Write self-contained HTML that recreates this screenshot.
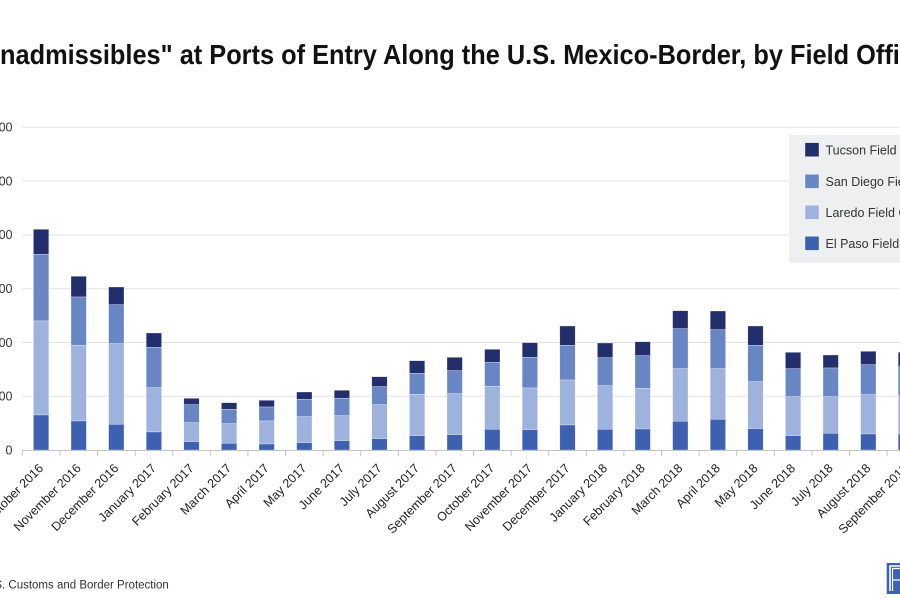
<!DOCTYPE html>
<html>
<head>
<meta charset="utf-8">
<style>
  html,body{margin:0;padding:0;background:#fff;}
  body{width:900px;height:600px;overflow:hidden;}
  svg{display:block;font-family:"Liberation Sans",sans-serif;}
</style>
</head>
<body>
<svg width="900" height="600" viewBox="0 0 900 600" xmlns="http://www.w3.org/2000/svg">
  <rect x="0" y="0" width="900" height="600" fill="#ffffff"/>

  <!-- Title -->
  <text x="-19" y="64" font-size="28" font-weight="bold" fill="#111" textLength="947" lengthAdjust="spacingAndGlyphs">"Inadmissibles" at Ports of Entry Along the U.S. Mexico-Border, by Field Office</text>

  <!-- Gridlines -->
  <g stroke="#e3e3e3" stroke-width="1">
    <line x1="22" y1="127.3" x2="900" y2="127.3"/>
    <line x1="22" y1="181.1" x2="900" y2="181.1"/>
    <line x1="22" y1="234.9" x2="900" y2="234.9"/>
    <line x1="22" y1="288.7" x2="900" y2="288.7"/>
    <line x1="22" y1="342.5" x2="900" y2="342.5"/>
    <line x1="22" y1="396.3" x2="900" y2="396.3"/>
  </g>

  <!-- Y labels -->
  <g font-size="12.5" fill="#333" text-anchor="end">
    <text x="12.5" y="131.6">30,000</text>
    <text x="12.5" y="185.4">25,000</text>
    <text x="12.5" y="239.2">20,000</text>
    <text x="12.5" y="293">15,000</text>
    <text x="12.5" y="346.8">10,000</text>
    <text x="12.5" y="400.6">5,000</text>
    <text x="12.5" y="454.4">0</text>
  </g>

  <!-- Bars: Tucson -->
  <g fill="#232e6c" stroke="#fff" stroke-width="0.5" stroke-opacity="0.6">
    <rect x="33.4" y="229.3" width="15.4" height="25"/>
    <rect x="71.0" y="276.3" width="15.4" height="20.7"/>
    <rect x="108.6" y="287" width="15.4" height="17.7"/>
    <rect x="146.2" y="333" width="15.4" height="14.3"/>
    <rect x="183.8" y="398.3" width="15.4" height="6.4"/>
    <rect x="221.4" y="402.7" width="15.4" height="6.6"/>
    <rect x="259.0" y="400.3" width="15.4" height="6.7"/>
    <rect x="296.6" y="392" width="15.4" height="7.3"/>
    <rect x="334.2" y="390.3" width="15.4" height="8"/>
    <rect x="371.8" y="376.7" width="15.4" height="10"/>
    <rect x="409.4" y="360.7" width="15.4" height="12.6"/>
    <rect x="447.0" y="357.3" width="15.4" height="13.4"/>
    <rect x="484.6" y="349.3" width="15.4" height="13"/>
    <rect x="522.2" y="342.7" width="15.4" height="14.6"/>
    <rect x="559.8" y="326" width="15.4" height="19.3"/>
    <rect x="597.4" y="343" width="15.4" height="14.7"/>
    <rect x="635.0" y="341.7" width="15.4" height="14"/>
    <rect x="672.6" y="310.7" width="15.4" height="18"/>
    <rect x="710.2" y="311" width="15.4" height="18.7"/>
    <rect x="747.8" y="326" width="15.4" height="19.3"/>
    <rect x="785.4" y="352.3" width="15.4" height="16.4"/>
    <rect x="823.0" y="355" width="15.4" height="13"/>
    <rect x="860.6" y="351.3" width="15.4" height="13.4"/>
    <rect x="898.2" y="352.3" width="15.4" height="14.4"/>
  </g>
  <!-- Bars: San Diego -->
  <g fill="#6786c3" stroke="#fff" stroke-width="0.5" stroke-opacity="0.6">
    <rect x="33.4" y="254.3" width="15.4" height="66.7"/>
    <rect x="71.0" y="297" width="15.4" height="48.3"/>
    <rect x="108.6" y="304.7" width="15.4" height="39"/>
    <rect x="146.2" y="347.3" width="15.4" height="40.4"/>
    <rect x="183.8" y="404.7" width="15.4" height="18"/>
    <rect x="221.4" y="409.3" width="15.4" height="14.4"/>
    <rect x="259.0" y="407" width="15.4" height="14"/>
    <rect x="296.6" y="399.3" width="15.4" height="17.4"/>
    <rect x="334.2" y="398.3" width="15.4" height="17.4"/>
    <rect x="371.8" y="386.7" width="15.4" height="18"/>
    <rect x="409.4" y="373.3" width="15.4" height="21"/>
    <rect x="447.0" y="370.7" width="15.4" height="23"/>
    <rect x="484.6" y="362.3" width="15.4" height="24"/>
    <rect x="522.2" y="357.3" width="15.4" height="30.7"/>
    <rect x="559.8" y="345.3" width="15.4" height="34.7"/>
    <rect x="597.4" y="357.7" width="15.4" height="28"/>
    <rect x="635.0" y="355.7" width="15.4" height="32.6"/>
    <rect x="672.6" y="328.7" width="15.4" height="40"/>
    <rect x="710.2" y="329.7" width="15.4" height="39"/>
    <rect x="747.8" y="345.3" width="15.4" height="36.4"/>
    <rect x="785.4" y="368.7" width="15.4" height="28"/>
    <rect x="823.0" y="368" width="15.4" height="28.7"/>
    <rect x="860.6" y="364.7" width="15.4" height="30"/>
    <rect x="898.2" y="366.7" width="15.4" height="29.3"/>
  </g>
  <!-- Bars: Laredo -->
  <g fill="#9db2dd" stroke="#fff" stroke-width="0.5" stroke-opacity="0.6">
    <rect x="33.4" y="321" width="15.4" height="94"/>
    <rect x="71.0" y="345.3" width="15.4" height="75.7"/>
    <rect x="108.6" y="343.7" width="15.4" height="80.6"/>
    <rect x="146.2" y="387.7" width="15.4" height="44.3"/>
    <rect x="183.8" y="422.7" width="15.4" height="19"/>
    <rect x="221.4" y="423.7" width="15.4" height="19.6"/>
    <rect x="259.0" y="421" width="15.4" height="23"/>
    <rect x="296.6" y="416.7" width="15.4" height="26"/>
    <rect x="334.2" y="415.7" width="15.4" height="25"/>
    <rect x="371.8" y="404.7" width="15.4" height="34"/>
    <rect x="409.4" y="394.3" width="15.4" height="41.4"/>
    <rect x="447.0" y="393.7" width="15.4" height="41"/>
    <rect x="484.6" y="386.3" width="15.4" height="43"/>
    <rect x="522.2" y="388" width="15.4" height="41.7"/>
    <rect x="559.8" y="380" width="15.4" height="45"/>
    <rect x="597.4" y="385.7" width="15.4" height="43.6"/>
    <rect x="635.0" y="388.3" width="15.4" height="40.7"/>
    <rect x="672.6" y="368.7" width="15.4" height="52.6"/>
    <rect x="710.2" y="368.7" width="15.4" height="50.6"/>
    <rect x="747.8" y="381.7" width="15.4" height="47"/>
    <rect x="785.4" y="396.7" width="15.4" height="39"/>
    <rect x="823.0" y="396.7" width="15.4" height="36.6"/>
    <rect x="860.6" y="394.7" width="15.4" height="39.3"/>
    <rect x="898.2" y="396" width="15.4" height="38"/>
  </g>
  <!-- Bars: El Paso -->
  <g fill="#3d61b0" stroke="#fff" stroke-width="0.5" stroke-opacity="0.6">
    <rect x="33.4" y="415" width="15.4" height="35"/>
    <rect x="71.0" y="421" width="15.4" height="29"/>
    <rect x="108.6" y="424.3" width="15.4" height="25.7"/>
    <rect x="146.2" y="432" width="15.4" height="18"/>
    <rect x="183.8" y="441.7" width="15.4" height="8.3"/>
    <rect x="221.4" y="443.3" width="15.4" height="6.7"/>
    <rect x="259.0" y="444" width="15.4" height="6"/>
    <rect x="296.6" y="442.7" width="15.4" height="7.3"/>
    <rect x="334.2" y="440.7" width="15.4" height="9.3"/>
    <rect x="371.8" y="438.7" width="15.4" height="11.3"/>
    <rect x="409.4" y="435.7" width="15.4" height="14.3"/>
    <rect x="447.0" y="434.7" width="15.4" height="15.3"/>
    <rect x="484.6" y="429.3" width="15.4" height="20.7"/>
    <rect x="522.2" y="429.7" width="15.4" height="20.3"/>
    <rect x="559.8" y="425" width="15.4" height="25"/>
    <rect x="597.4" y="429.3" width="15.4" height="20.7"/>
    <rect x="635.0" y="429" width="15.4" height="21"/>
    <rect x="672.6" y="421.3" width="15.4" height="28.7"/>
    <rect x="710.2" y="419.3" width="15.4" height="30.7"/>
    <rect x="747.8" y="428.7" width="15.4" height="21.3"/>
    <rect x="785.4" y="435.7" width="15.4" height="14.3"/>
    <rect x="823.0" y="433.3" width="15.4" height="16.7"/>
    <rect x="860.6" y="434" width="15.4" height="16"/>
    <rect x="898.2" y="434" width="15.4" height="16"/>
  </g>

  <!-- X axis line and ticks -->
  <line x1="22" y1="450.5" x2="900" y2="450.5" stroke="#c4c4c4" stroke-width="1"/>
  <g stroke="#c4c4c4" stroke-width="1">
    <line x1="22.3" y1="450" x2="22.3" y2="456"/>
    <line x1="59.9" y1="450" x2="59.9" y2="456"/>
    <line x1="97.5" y1="450" x2="97.5" y2="456"/>
    <line x1="135.1" y1="450" x2="135.1" y2="456"/>
    <line x1="172.7" y1="450" x2="172.7" y2="456"/>
    <line x1="210.3" y1="450" x2="210.3" y2="456"/>
    <line x1="247.9" y1="450" x2="247.9" y2="456"/>
    <line x1="285.5" y1="450" x2="285.5" y2="456"/>
    <line x1="323.1" y1="450" x2="323.1" y2="456"/>
    <line x1="360.7" y1="450" x2="360.7" y2="456"/>
    <line x1="398.3" y1="450" x2="398.3" y2="456"/>
    <line x1="435.9" y1="450" x2="435.9" y2="456"/>
    <line x1="473.5" y1="450" x2="473.5" y2="456"/>
    <line x1="511.1" y1="450" x2="511.1" y2="456"/>
    <line x1="548.7" y1="450" x2="548.7" y2="456"/>
    <line x1="586.3" y1="450" x2="586.3" y2="456"/>
    <line x1="623.9" y1="450" x2="623.9" y2="456"/>
    <line x1="661.5" y1="450" x2="661.5" y2="456"/>
    <line x1="699.1" y1="450" x2="699.1" y2="456"/>
    <line x1="736.7" y1="450" x2="736.7" y2="456"/>
    <line x1="774.3" y1="450" x2="774.3" y2="456"/>
    <line x1="811.9" y1="450" x2="811.9" y2="456"/>
    <line x1="849.5" y1="450" x2="849.5" y2="456"/>
    <line x1="887.1" y1="450" x2="887.1" y2="456"/>
  </g>

  <!-- X labels -->
  <g font-size="12.5" fill="#222" text-anchor="end">
    <text transform="translate(44.1,469) rotate(-45)">October 2016</text>
    <text transform="translate(81.7,469) rotate(-45)">November 2016</text>
    <text transform="translate(119.3,469) rotate(-45)">December 2016</text>
    <text transform="translate(156.9,469) rotate(-45)">January 2017</text>
    <text transform="translate(194.5,469) rotate(-45)">February 2017</text>
    <text transform="translate(232.1,469) rotate(-45)">March 2017</text>
    <text transform="translate(269.7,469) rotate(-45)">April 2017</text>
    <text transform="translate(307.3,469) rotate(-45)">May 2017</text>
    <text transform="translate(344.9,469) rotate(-45)">June 2017</text>
    <text transform="translate(382.5,469) rotate(-45)">July 2017</text>
    <text transform="translate(420.1,469) rotate(-45)">August 2017</text>
    <text transform="translate(457.7,469) rotate(-45)">September 2017</text>
    <text transform="translate(495.3,469) rotate(-45)">October 2017</text>
    <text transform="translate(532.9,469) rotate(-45)">November 2017</text>
    <text transform="translate(570.5,469) rotate(-45)">December 2017</text>
    <text transform="translate(608.1,469) rotate(-45)">January 2018</text>
    <text transform="translate(645.7,469) rotate(-45)">February 2018</text>
    <text transform="translate(683.3,469) rotate(-45)">March 2018</text>
    <text transform="translate(720.9,469) rotate(-45)">April 2018</text>
    <text transform="translate(758.5,469) rotate(-45)">May 2018</text>
    <text transform="translate(796.1,469) rotate(-45)">June 2018</text>
    <text transform="translate(833.7,469) rotate(-45)">July 2018</text>
    <text transform="translate(871.3,469) rotate(-45)">August 2018</text>
    <text transform="translate(908.9,469) rotate(-45)">September 2018</text>
  </g>

  <!-- Legend -->
  <rect x="789" y="135" width="120" height="128" fill="#edeff1"/>
  <g stroke="#ffffff" stroke-width="0.6" stroke-opacity="0.6">
    <rect x="805" y="142.7" width="14" height="14" fill="#232e6c"/>
    <rect x="805" y="174.3" width="14" height="14" fill="#6786c3"/>
    <rect x="805" y="205.3" width="14" height="14" fill="#9db2dd"/>
    <rect x="805" y="236.3" width="14" height="14" fill="#3d61b0"/>
  </g>
  <g font-size="12.5" fill="#333">
    <text x="825.5" y="154.3">Tucson Field Office</text>
    <text x="825.5" y="185.8">San Diego Field Office</text>
    <text x="825.5" y="216.8">Laredo Field Office</text>
    <text x="825.5" y="247.8">El Paso Field Office</text>
  </g>

  <!-- Source -->
  <text x="-60" y="588.5" font-size="11.5" fill="#333">Source: U.S. Customs and Border Protection</text>

  <!-- Logo -->
  <rect x="886.7" y="563" width="16" height="31" fill="#3d62b3"/>
  <path d="M890 591 V566 H900" fill="none" stroke="#fff" stroke-width="1.6"/>
  <path d="M892.5 591 V568.5 H900 M892.5 580 H900" fill="none" stroke="#fff" stroke-width="1.2"/>
</svg>
</body>
</html>
